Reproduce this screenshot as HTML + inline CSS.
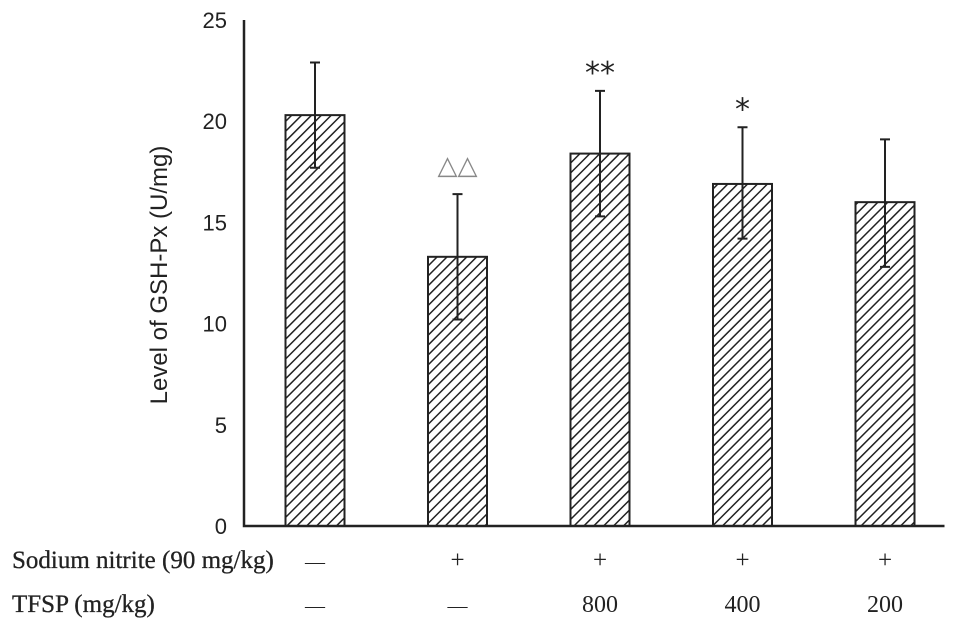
<!DOCTYPE html>
<html><head><meta charset="utf-8"><style>
body{margin:0;background:#fff;}
svg{display:block;font-family:"Liberation Serif",serif;}
</style></head><body>
<svg width="969" height="630" viewBox="0 0 969 630">
<defs>
<pattern id="hatch" patternUnits="userSpaceOnUse" width="7" height="7" patternTransform="rotate(45)">
<rect width="7" height="7" fill="#fff"/>
<line x1="0" y1="0" x2="0" y2="7" stroke="#222" stroke-width="3"/>
</pattern>
</defs>
<g id="plot"></g>
</svg>
<script>
const categories=["g1","g2","g3","g4","g5"];
const values=[20.3,13.3,18.4,16.9,16.0];
const errHigh=[22.9,16.4,21.5,19.7,19.1];
const errLow=[17.7,10.2,15.3,14.2,12.8];
const marks=["","△△","**","*",""];
const yTicks=[0,5,10,15,20,25];
const nitrite=["—","+","+","+","+"];
const tfsp=["—","—","800","400","200"];
const NS="http://www.w3.org/2000/svg";
const g=document.getElementById('plot');
const y0=526, ppu=20.24, axX=244, x0=315, step=142.5, bw=59;
const Y=v=>y0-v*ppu, X=i=>x0+i*step;
function mk(t,a,txt){const e=document.createElementNS(NS,t);for(const k in a)e.setAttribute(k,a[k]);if(txt!==undefined)e.textContent=txt;g.appendChild(e);return e;}
categories.forEach((c,i)=>{
 const b=mk('rect',{x:X(i)-bw/2,y:Y(values[i]),width:bw,height:y0-Y(values[i]),fill:'url(#hatch)',stroke:'#222','stroke-width':2});
 
 
 const e=mk('path',{d:`M${X(i)} ${Y(errLow[i])}V${Y(errHigh[i])}M${X(i)-5} ${Y(errHigh[i])}h10M${X(i)-5} ${Y(errLow[i])}h10`,stroke:'#222','stroke-width':2,fill:'none'});
 
 
 if(marks[i]){const m=mk('text',{x:X(i),y:Y(errHigh[i])-(marks[i][0]=='*'?8:20),'text-anchor':'middle','font-size':marks[i][0]=='*'?30:26,fill:marks[i][0]=='*'?'#222':'#888','font-family':'DejaVu Sans, sans-serif'},marks[i]);
 
 }
 const n=mk('text',{x:X(i),y:568,'text-anchor':'middle','font-size':nitrite[i]=='—'?20:25,fill:'#222'},nitrite[i]);
 
 
 const t=mk('text',{x:X(i),y:612,'text-anchor':'middle','font-size':tfsp[i]=='—'?20:24,fill:'#222'},tfsp[i]);
 
 
});
const ax=mk('path',{d:`M${axX} ${Y(25)}V${y0}H${X(4)+bw/2+30}`,stroke:'#222','stroke-width':2.5,fill:'none'});


yTicks.forEach(v=>{const t=mk('text',{x:227,y:Y(v)+8,'text-anchor':'end','font-size':22,fill:'#222','font-family':'Liberation Sans, sans-serif'},v);
 
 });
const yt=mk('text',{x:0,y:0,'text-anchor':'middle','font-size':24,fill:'#222','font-family':'Liberation Sans, sans-serif',transform:`translate(167,275) rotate(-90)`},'Level of GSH-Px (U/mg)');


const r1=mk('text',{x:12,y:568,'font-size':25,fill:'#222',stroke:'#222','stroke-width':0.3},'Sodium nitrite (90 mg/kg)');


const r2=mk('text',{x:12,y:612,'font-size':25,fill:'#222',stroke:'#222','stroke-width':0.3},'TFSP (mg/kg)');


</script>
</body></html>
